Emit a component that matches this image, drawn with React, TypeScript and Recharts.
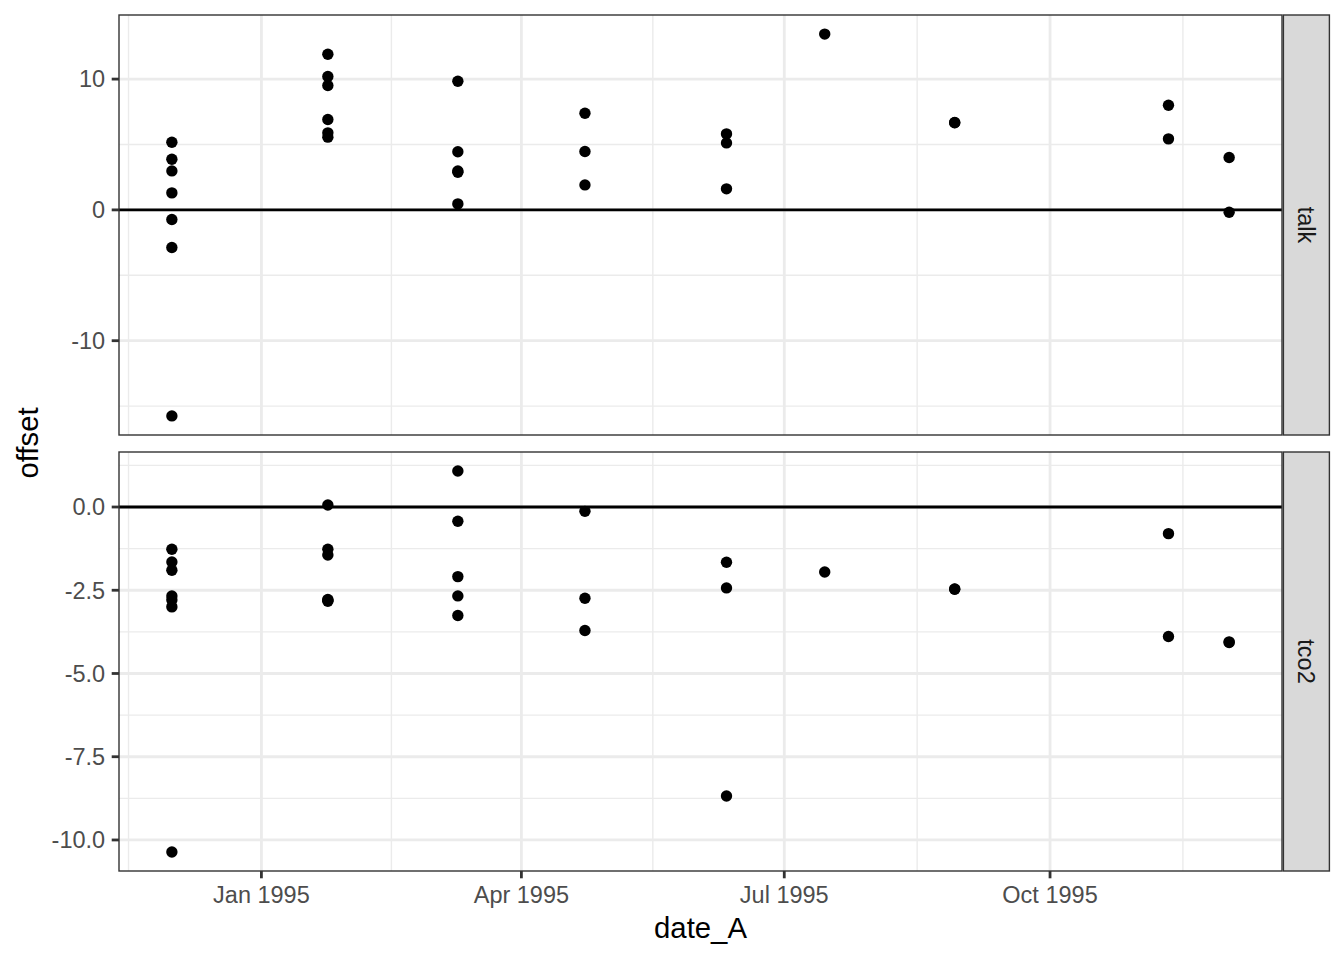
import React from 'react';
import { ScatterChart, Scatter, XAxis, YAxis, ReferenceLine } from 'recharts';

// ---- data ----
const sampleDates = [
  '1994-12-01', '1995-01-24', '1995-03-10', '1995-04-23', '1995-06-11',
  '1995-07-15', '1995-08-29', '1995-11-11', '1995-12-02',
];

const talkOffsets: number[][] = [
  [5.17, 3.87, 2.98, 1.3, -0.74, -2.88, -15.75],
  [11.9, 10.2, 9.51, 6.91, 5.89, 5.56],
  [9.84, 4.44, 2.98, 2.88, 0.46],
  [7.39, 4.46, 1.91],
  [5.81, 5.12, 1.61],
  [13.44],
  [6.68, 6.66],
  [8.0, 5.43],
  [4.0, -0.18],
];

const tco2Offsets: number[][] = [
  [-1.27, -1.65, -1.9, -2.67, -2.79, -3.0, -10.36],
  [0.06, -1.27, -1.44, -2.78, -2.8, -2.83],
  [1.08, -0.43, -2.09, -2.67, -3.26],
  [-0.13, -2.74, -3.71],
  [-1.66, -2.43, -8.68],
  [-1.95],
  [-2.46, -2.47],
  [-0.8, -3.89],
  [-4.07, -4.05],
];

const xTickDates = ['1995-01-01', '1995-04-01', '1995-07-01', '1995-10-01'];
const xTickLabels = ['Jan 1995', 'Apr 1995', 'Jul 1995', 'Oct 1995'];
const xOuterBreaks = ['1994-10-01', '1996-01-01'];

const talkTicks = [-10, 0, 10];
const talkMinor = [-15, -5, 5];
const tco2Ticks = [-10, -7.5, -5, -2.5, 0];
const tco2Minor = [-8.75, -6.25, -3.75, -1.25, 1.25];

const facetLabels = ['talk', 'tco2'];

// ---- helpers ----
const toTime = (s: string) => Date.parse(s + 'T00:00:00Z');

function buildRows(offsets: number[][]) {
  const rows: { x: number; y: number }[] = [];
  sampleDates.forEach((d, i) => {
    offsets[i].forEach((v) => rows.push({ x: toTime(d), y: v }));
  });
  return rows;
}

function expand(vals: number[]): [number, number] {
  const mn = Math.min(...vals);
  const mx = Math.max(...vals);
  const p = (mx - mn) * 0.05;
  return [mn - p, mx + p];
}

const talkRows = buildRows(talkOffsets);
const tco2Rows = buildRows(tco2Offsets);
const xDomain = expand(sampleDates.map(toTime));
const xTicks = xTickDates.map(toTime);
const allBreaks = [xOuterBreaks[0], ...xTickDates, xOuterBreaks[1]].map(toTime);
const xMinor = allBreaks.slice(1).map((b, i) => (b + allBreaks[i]) / 2);

const FONT = '"Liberation Sans", Arial, Helvetica, sans-serif';
const GRID = '#EBEBEB';
const DARK = '#333333';

const Dot = (props: any) => (
  <circle cx={props.cx} cy={props.cy} r={5.7} fill="#000000" />
);

const xFmt = (v: number) => {
  const i = xTicks.indexOf(v);
  return i >= 0 ? xTickLabels[i] : '';
};

type PanelProps = {
  rows: { x: number; y: number }[];
  yTicks: number[];
  yMinor: number[];
  yFmt: (v: number) => string;
  height: number;
  margin: { top: number; right: number; bottom: number; left: number };
  showX: boolean;
  xHeight: number;
};

function Panel({ rows, yTicks, yMinor, yFmt, height, margin, showX, xHeight }: PanelProps) {
  const yDomain = expand(rows.map((r) => r.y));
  return (
    <ScatterChart width={1344} height={height} margin={margin}>
      <XAxis
        type="number"
        dataKey="x"
        domain={xDomain}
        ticks={xTicks}
        tickFormatter={xFmt}
        hide={!showX}
        height={xHeight}
        axisLine={false}
        tickLine={{ stroke: DARK, strokeWidth: 2.8 }}
        tickSize={7.3}
        tickMargin={8.5}
        tick={{ fill: '#4D4D4D', fontSize: 23.5, fontFamily: FONT }}
        allowDataOverflow
      />
      <YAxis
        type="number"
        dataKey="y"
        domain={yDomain}
        ticks={yTicks}
        tickFormatter={yFmt}
        width={119}
        axisLine={false}
        tickLine={{ stroke: DARK, strokeWidth: 2.8 }}
        tickSize={7.3}
        tickMargin={6.5}
        tick={{ fill: '#4D4D4D', fontSize: 23.5, fontFamily: FONT }}
        allowDataOverflow
      />
      {xMinor.map((v) => (
        <ReferenceLine key={'xm' + v} x={v} stroke={GRID} strokeWidth={1.4} />
      ))}
      {yMinor.map((v) => (
        <ReferenceLine key={'ym' + v} y={v} stroke={GRID} strokeWidth={1.4} />
      ))}
      {xTicks.map((v) => (
        <ReferenceLine key={'xM' + v} x={v} stroke={GRID} strokeWidth={2.8} />
      ))}
      {yTicks.map((v) => (
        <ReferenceLine key={'yM' + v} y={v} stroke={GRID} strokeWidth={2.8} />
      ))}
      <ReferenceLine y={0} stroke="#000000" strokeWidth={2.8} />
      <Scatter data={rows} shape={Dot} isAnimationActive={false} />
    </ScatterChart>
  );
}

export default function App() {
  const panelLeft = 119;
  const panelRight = 1282;
  const p1 = { top: 15, bottom: 435 };
  const p2 = { top: 452, bottom: 871 };
  const stripW = 46;
  return (
    <div
      style={{
        position: 'absolute',
        left: 0,
        top: 0,
        width: 1344,
        height: 960,
        background: '#ffffff',
        overflow: 'hidden',
        fontFamily: FONT,
      }}
    >
      <div style={{ position: 'absolute', left: 0, top: 0 }}>
        <Panel
          rows={talkRows}
          yTicks={talkTicks}
          yMinor={talkMinor}
          yFmt={(v) => String(v)}
          height={440}
          margin={{ top: p1.top, right: 1344 - panelRight, bottom: 440 - p1.bottom, left: 0 }}
          showX={false}
          xHeight={0}
        />
      </div>
      <div style={{ position: 'absolute', left: 0, top: 440 }}>
        <Panel
          rows={tco2Rows}
          yTicks={tco2Ticks}
          yMinor={tco2Minor}
          yFmt={(v) => v.toFixed(1)}
          height={520}
          margin={{ top: p2.top - 440, right: 1344 - panelRight, bottom: 0, left: 0 }}
          showX={true}
          xHeight={520 - (p2.bottom - 440)}
        />
      </div>
      <svg
        width={1344}
        height={960}
        style={{ position: 'absolute', left: 0, top: 0, pointerEvents: 'none' }}
      >
        {[p1, p2].map((p, i) => (
          <g key={i}>
            <rect
              x={panelLeft}
              y={p.top}
              width={panelRight - panelLeft}
              height={p.bottom - p.top}
              fill="none"
              stroke={DARK}
              strokeWidth={1.4}
            />
            <rect
              x={panelRight + 1.4}
              y={p.top}
              width={stripW}
              height={p.bottom - p.top}
              fill="#D9D9D9"
              stroke={DARK}
              strokeWidth={1.4}
            />
            <text
              transform={`translate(${panelRight + 1.4 + stripW / 2}, ${(p.top + p.bottom) / 2}) rotate(90)`}
              textAnchor="middle"
              dominantBaseline="central"
              fontSize={23.5}
              fill="#1A1A1A"
              fontFamily={FONT}
            >
              {facetLabels[i]}
            </text>
          </g>
        ))}
        <text
          x={(panelLeft + panelRight) / 2}
          y={938}
          textAnchor="middle"
          fontSize={29.3}
          fill="#000000"
          fontFamily={FONT}
        >
          date_A
        </text>
        <text
          transform={`translate(38, ${(p1.top + p2.bottom) / 2}) rotate(-90)`}
          textAnchor="middle"
          fontSize={29.3}
          fill="#000000"
          fontFamily={FONT}
        >
          offset
        </text>
      </svg>
    </div>
  );
}
